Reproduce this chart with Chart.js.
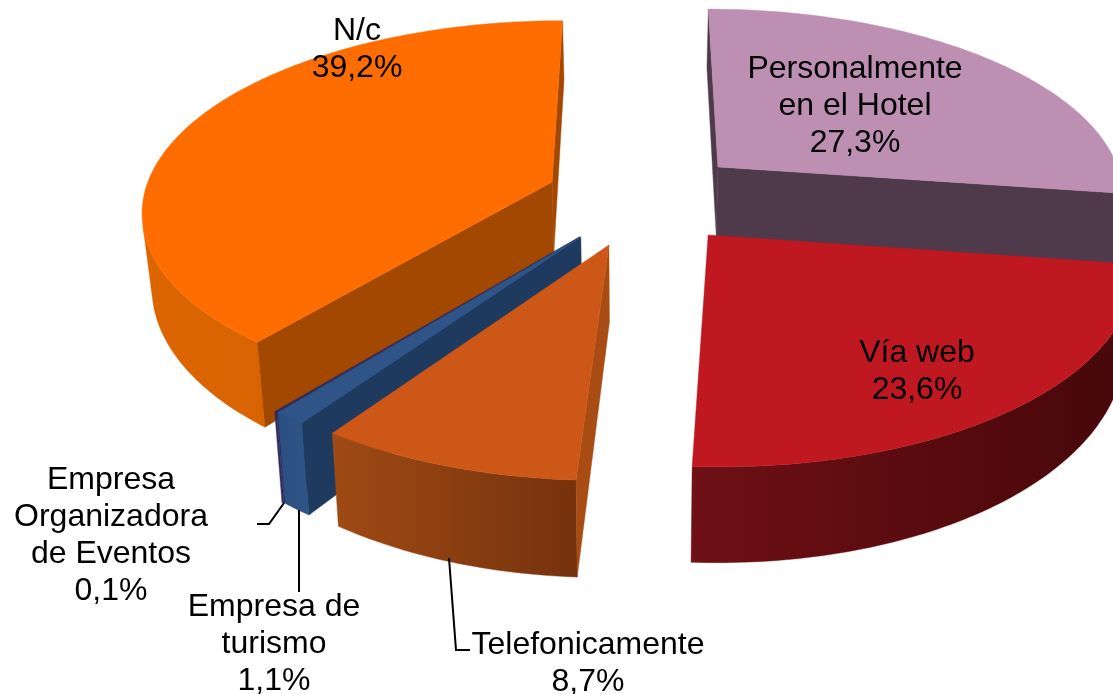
<!DOCTYPE html>
<html><head><meta charset="utf-8">
<style>html,body{margin:0;padding:0;background:#fff;overflow:hidden}#wrap{width:1113px;height:694px;position:relative}</style>
<script src="https://cdn.jsdelivr.net/npm/chart.js@4"></script>
</head><body><div id="wrap"><canvas id="c" width="1113" height="694"></canvas></div>
<script>
const categories = ["Personalmente en el Hotel","Vía web","Telefonicamente","Empresa de turismo","Empresa Organizadora de Eventos","N/c"];
const values = [27.3,23.6,8.7,1.1,0.1,39.2];
const labelLines = [["Personalmente","en el Hotel"],["Vía web"],["Telefonicamente"],["Empresa de","turismo"],["Empresa","Organizadora","de Eventos"],["N/c"]];
const explodeU = [0.2,0.1668,-0.0687,-0.1357,-0.1386,-0.2125];
const explodeV = [0.174,-0.186,-0.236,-0.196,-0.196,0.0914];
const topColors = ["#BD8FB3","#C01820","#CD5716","#2F5588","#2E2C5F","#FF6D00"];
const radialColors = ["#4F3A4B","#4F0A0E","#A84C14","#1F3A5F","#2E2C5F","#A34800"];
const outerLeft = ["#6E5468","#6E1015","#A04A14","#2C4F80","#2E2C5F","#DC6500"];
const outerRight = ["#4F3A4B","#46070A","#75320D","#2E5385","#2E2C5F","#D05E00"];
const labelPos = [[855,69],[917,353],[588,645],[274,607],[111,480],[357,31]];
const leaders = [null,null,[[449,558],[456,650],[470,650]],[[299,510],[299,592]],[[284,503],[269,524],[257,524]],null];

const view = {dx:81.5, dy:-148, radiusScale:1.18, tilt:0.46, persp:0.14, depth:73, taper:0.02};
const lineGap = 37.2, fontPx = 32;

const pie3d = {
  id:'pie3d',
  beforeDatasetsDraw(chart){
    const ctx = chart.ctx, arcs = chart.getDatasetMeta(0).data;
    const first = arcs[0];
    const A = first.outerRadius*view.radiusScale, B = A*view.tilt;
    const cx = first.x+view.dx, y0 = first.y+view.dy;
    const proj=(u,v,z)=>{const w=1+view.persp*v, s=1-view.taper*z;
      return [cx+A*u/w*s, y0-B*v/w+z*view.depth/Math.pow(w,1.5)];};
    const poly=(pts,fill)=>{ctx.beginPath();pts.forEach((p,i)=>i?ctx.lineTo(p[0],p[1]):ctx.moveTo(p[0],p[1]));ctx.closePath();ctx.fillStyle=fill;ctx.fill();ctx.strokeStyle=fill;ctx.lineWidth=0.4;ctx.stroke();};
    const area=q=>{let s=0;q.forEach((p,i)=>{const n=q[(i+1)%q.length];s+=p[0]*n[1]-n[0]*p[1];});return s;};
    const order = arcs.map((a,i)=>i).sort((p,q)=>{
      const m=i=>-Math.sin((arcs[i].startAngle+arcs[i].endAngle)/2); return m(q)-m(p);});
    ctx.save();
    order.forEach(i=>{
      const a=arcs[i];
      const ou=explodeU[i], ov=explodeV[i];
      const steps=Math.max(2,Math.ceil((a.endAngle-a.startAngle)/(Math.PI/180)));
      const rim=[];
      for(let s=0;s<=steps;s++){const t=a.startAngle+(a.endAngle-a.startAngle)*s/steps;
        rim.push([ou+Math.cos(t),ov-Math.sin(t)]);}
      const T=p=>proj(p[0],p[1],0), L=p=>proj(p[0],p[1],1);
      const apex=[ou,ov];
      let xs=rim.map(p=>T(p)[0]);
      const g=ctx.createLinearGradient(Math.min(...xs),0,Math.max(...xs),0);
      g.addColorStop(0,outerLeft[i]);g.addColorStop(1,outerRight[i]);
      let run=[];
      const flush=()=>{if(run.length>1){poly(run.map(T).concat(run.slice().reverse().map(L)),g);}run=[];};
      for(let s=0;s<steps;s++){
        const q=[T(rim[s]),T(rim[s+1]),L(rim[s+1]),L(rim[s])];
        if(area(q)<0){if(!run.length)run.push(rim[s]);run.push(rim[s+1]);}else flush();
      }
      flush();
      const e1=[T(apex),T(rim[0]),L(rim[0]),L(apex)];
      if(area(e1)<0)poly(e1,radialColors[i]);
      const e2=[T(rim[steps]),T(apex),L(apex),L(rim[steps])];
      if(area(e2)<0)poly(e2,radialColors[i]);
      poly([T(apex)].concat(rim.map(T)),topColors[i]);
    });
    ctx.strokeStyle="#000";ctx.lineWidth=2;ctx.lineJoin="miter";
    leaders.forEach(l=>{if(!l)return;ctx.beginPath();l.forEach((p,i)=>i?ctx.lineTo(p[0],p[1]):ctx.moveTo(p[0],p[1]));ctx.stroke();});
    ctx.fillStyle="#000";ctx.textAlign="center";ctx.textBaseline="middle";
    ctx.font=fontPx+'px "Liberation Sans", Arial, sans-serif';
    values.forEach((val,i)=>{
      const lines=labelLines[i].concat([val.toFixed(1).replace('.',',')+'%']);
      lines.forEach((t,j)=>ctx.fillText(t,labelPos[i][0],labelPos[i][1]+j*lineGap));
    });
    ctx.restore();
    return false;
  }
};

new Chart(document.getElementById('c'),{
  type:'pie',
  data:{labels:categories,datasets:[{data:values,backgroundColor:topColors,borderWidth:0}]},
  options:{responsive:false,animation:false,rotation:0,
    layout:{padding:0},
    plugins:{legend:{display:false},tooltip:{enabled:false},title:{display:false}}},
  plugins:[pie3d]
});
</script></body></html>
